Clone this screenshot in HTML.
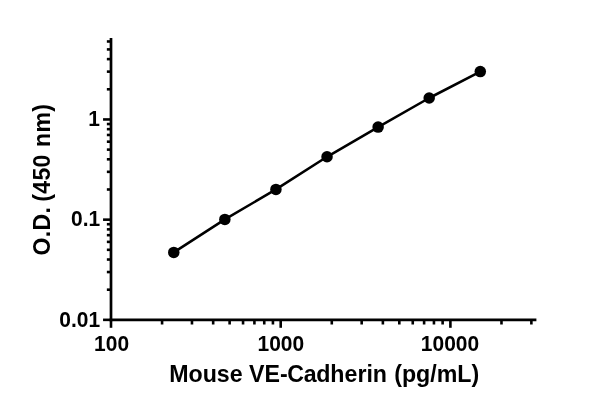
<!DOCTYPE html><html><head><meta charset="utf-8"><title>Mouse VE-Cadherin</title>
<style>html,body{margin:0;padding:0;background:#fff}svg{display:block}text{font-family:"Liberation Sans",sans-serif;font-weight:bold;fill:#000}</style></head><body>
<svg width="600" height="407" viewBox="0 0 600 407">
<rect width="600" height="407" fill="#fff"/>
<g stroke="#000" stroke-width="2.7" fill="none" stroke-linecap="butt">
<path d="M111.0 38.0V321.20000000000005"/>
<path d="M109.65 319.85H536.4"/>
</g>
<g stroke="#000" stroke-width="2.6">
<path d="M111.00 319.85V327.80"/>
<path d="M162.08 319.85V324.50"/>
<path d="M191.97 319.85V324.50"/>
<path d="M213.17 319.85V324.50"/>
<path d="M229.62 319.85V324.50"/>
<path d="M243.05 319.85V324.50"/>
<path d="M254.41 319.85V324.50"/>
<path d="M264.25 319.85V324.50"/>
<path d="M272.93 319.85V324.50"/>
<path d="M280.70 319.85V327.80"/>
<path d="M331.78 319.85V324.50"/>
<path d="M361.67 319.85V324.50"/>
<path d="M382.87 319.85V324.50"/>
<path d="M399.32 319.85V324.50"/>
<path d="M412.75 319.85V324.50"/>
<path d="M424.11 319.85V324.50"/>
<path d="M433.95 319.85V324.50"/>
<path d="M442.63 319.85V324.50"/>
<path d="M450.40 319.85V327.80"/>
<path d="M501.48 319.85V324.50"/>
<path d="M531.37 319.85V324.50"/>
<path d="M111.0 319.85H103.05"/>
<path d="M111.0 289.69H106.85"/>
<path d="M111.0 272.04H106.85"/>
<path d="M111.0 259.52H106.85"/>
<path d="M111.0 249.81H106.85"/>
<path d="M111.0 241.88H106.85"/>
<path d="M111.0 235.17H106.85"/>
<path d="M111.0 229.36H106.85"/>
<path d="M111.0 224.23H106.85"/>
<path d="M111.0 219.65H103.05"/>
<path d="M111.0 189.49H106.85"/>
<path d="M111.0 171.84H106.85"/>
<path d="M111.0 159.32H106.85"/>
<path d="M111.0 149.61H106.85"/>
<path d="M111.0 141.68H106.85"/>
<path d="M111.0 134.97H106.85"/>
<path d="M111.0 129.16H106.85"/>
<path d="M111.0 124.03H106.85"/>
<path d="M111.0 119.45H103.05"/>
<path d="M111.0 89.29H106.85"/>
<path d="M111.0 71.64H106.85"/>
<path d="M111.0 59.12H106.85"/>
<path d="M111.0 49.41H106.85"/>
<path d="M111.0 41.48H106.85"/>
</g>
<text transform="translate(111.6 351.0) scale(1 1.045)" font-size="21" text-anchor="middle" letter-spacing="0">100</text>
<text transform="translate(280.8 351.0) scale(1 1.045)" font-size="21" text-anchor="middle" letter-spacing="0">1000</text>
<text transform="translate(450.0 351.0) scale(1 1.045)" font-size="21" text-anchor="middle" letter-spacing="0">10000</text>
<text transform="translate(100.2 326.5) scale(1 1.045)" font-size="21" text-anchor="end" letter-spacing="0">0.01</text>
<text transform="translate(100.2 226.4) scale(1 1.045)" font-size="21" text-anchor="end" letter-spacing="0">0.1</text>
<text transform="translate(100.0 126.4) scale(1 1.045)" font-size="21" text-anchor="end" letter-spacing="0">1</text>
<text transform="translate(324.2 381.7)" font-size="23.2" text-anchor="middle">Mouse VE-<tspan dx="-0.4">C</tspan><tspan dx="-0.4">a</tspan><tspan dx="-0.4">dherin</tspan><tspan dx="0.8"> (pg/mL)</tspan></text>
<text transform="translate(49.9 179.65) rotate(-90)" font-size="23" text-anchor="middle" letter-spacing="0.33">O.D.<tspan dx="-1.5"> (450</tspan><tspan dx="0.6"> nm)</tspan></text>
<path d="M173.77 252.4 L224.86 219.4 L275.94 189.4 L327.03 156.8 L378.11 127.1 L429.2 98.0 L480.28 71.6" fill="none" stroke="#000" stroke-width="2.55" stroke-linejoin="round"/>
<circle cx="173.77" cy="252.4" r="5.75" fill="#000"/>
<circle cx="224.86" cy="219.4" r="5.75" fill="#000"/>
<circle cx="275.94" cy="189.4" r="5.75" fill="#000"/>
<circle cx="327.03" cy="156.8" r="5.75" fill="#000"/>
<circle cx="378.11" cy="127.1" r="5.75" fill="#000"/>
<circle cx="429.2" cy="98.0" r="5.75" fill="#000"/>
<circle cx="480.28" cy="71.6" r="5.75" fill="#000"/>
</svg></body></html>
